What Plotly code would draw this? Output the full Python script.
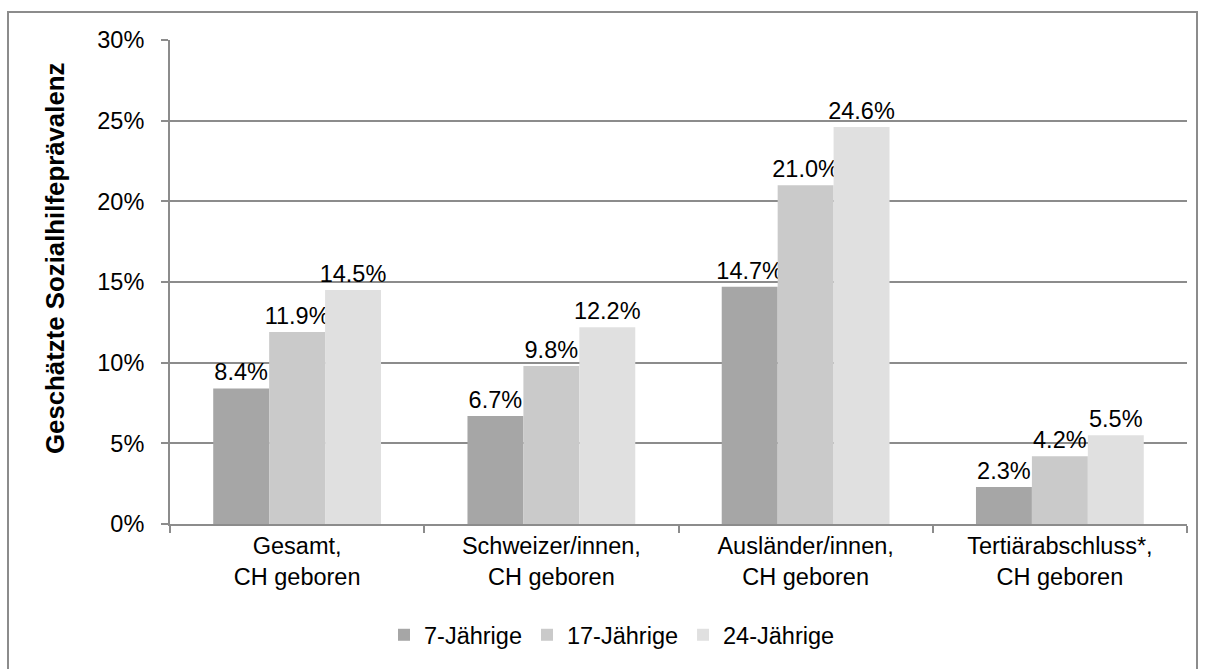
import plotly.graph_objects as go

categories = ["Gesamt,<br>CH geboren", "Schweizer/innen,<br>CH geboren",
              "Ausländer/innen,<br>CH geboren", "Tertiärabschluss*,<br>CH geboren"]
series_names = ["7-Jährige", "17-Jährige", "24-Jährige"]
values_7 = [8.4, 6.7, 14.7, 2.3]
values_17 = [11.9, 9.8, 21.0, 4.2]
values_24 = [14.5, 12.2, 24.6, 5.5]
colors = ["#a6a6a6", "#cacaca", "#e0e0e0"]
y_ticks = [0, 5, 10, 15, 20, 25, 30]
y_title = "Geschätzte Sozialhilfeprävalenz"

FONT = "Liberation Sans, Arial, sans-serif"
FS = 23.5

fig = go.Figure()
for name, vals, col in zip(series_names, [values_7, values_17, values_24], colors):
    fig.add_trace(go.Bar(
        x=categories, y=vals, name=name,
        marker=dict(color=col, line=dict(width=0)),
        text=[f"{v:.1f}%" for v in vals],
        textposition="outside",
        textfont=dict(size=FS, color="#000000", family=FONT),
        constraintext="none",
        cliponaxis=False,
    ))

L, R, T, B = 170, 18, 40, 145
PW, PH = 1205 - L - R, 669 - T - B

fig.update_layout(
    width=1205, height=669,
    margin=dict(l=L, r=R, t=T, b=B, autoexpand=False),
    paper_bgcolor="white", plot_bgcolor="white",
    barmode="group", bargap=0.34, bargroupgap=0,
    font=dict(family=FONT, size=FS, color="#000000"),
    showlegend=True,
    legend=dict(orientation="h", x=(612 - L) / PW, xanchor="center",
                y=(PH + T - 635) / PH, yanchor="middle",
                font=dict(size=FS, family=FONT), itemwidth=30, traceorder="normal",
                itemclick=False, bgcolor="rgba(0,0,0,0)"),
    xaxis=dict(
        showline=True, linecolor="#8c8c8c", linewidth=2,
        ticks="outside", tickson="boundaries", ticklen=7, tickcolor="#8c8c8c", tickwidth=2,
        tickfont=dict(size=FS, family=FONT, color="#000000"),
        showgrid=False,
    ),
    yaxis=dict(
        range=[0, 30], tickvals=y_ticks, ticktext=[f"{t}%" for t in y_ticks],
        showline=True, linecolor="#8c8c8c", linewidth=2,
        ticks="outside", ticklen=7, tickcolor="#8c8c8c", tickwidth=2,
        ticklabelstandoff=12,
        showgrid=True, gridcolor="#8c8c8c", gridwidth=2,
        zeroline=False,
        tickfont=dict(size=FS, family=FONT, color="#000000"),
    ),
    annotations=[dict(text=f"<b>{y_title}</b>", textangle=-90, showarrow=False,
                      xref="paper", yref="paper",
                      x=(55 - L) / PW, y=(PH + T - 259) / PH,
                      xanchor="center", yanchor="middle",
                      font=dict(size=25.8, family=FONT, color="#000000"))],
    shapes=[dict(type="rect", xref="paper", yref="paper",
                 x0=(8 - L) / PW, x1=(1197 - L) / PW, y0=-0.4, y1=(PH + T - 12) / PH,
                 line=dict(color="#8c8c8c", width=2), fillcolor="rgba(0,0,0,0)", layer="below")],
)

fig.write_html("out.html", post_script="document.body.style.margin='0';",
               config={"displayModeBar": False})
